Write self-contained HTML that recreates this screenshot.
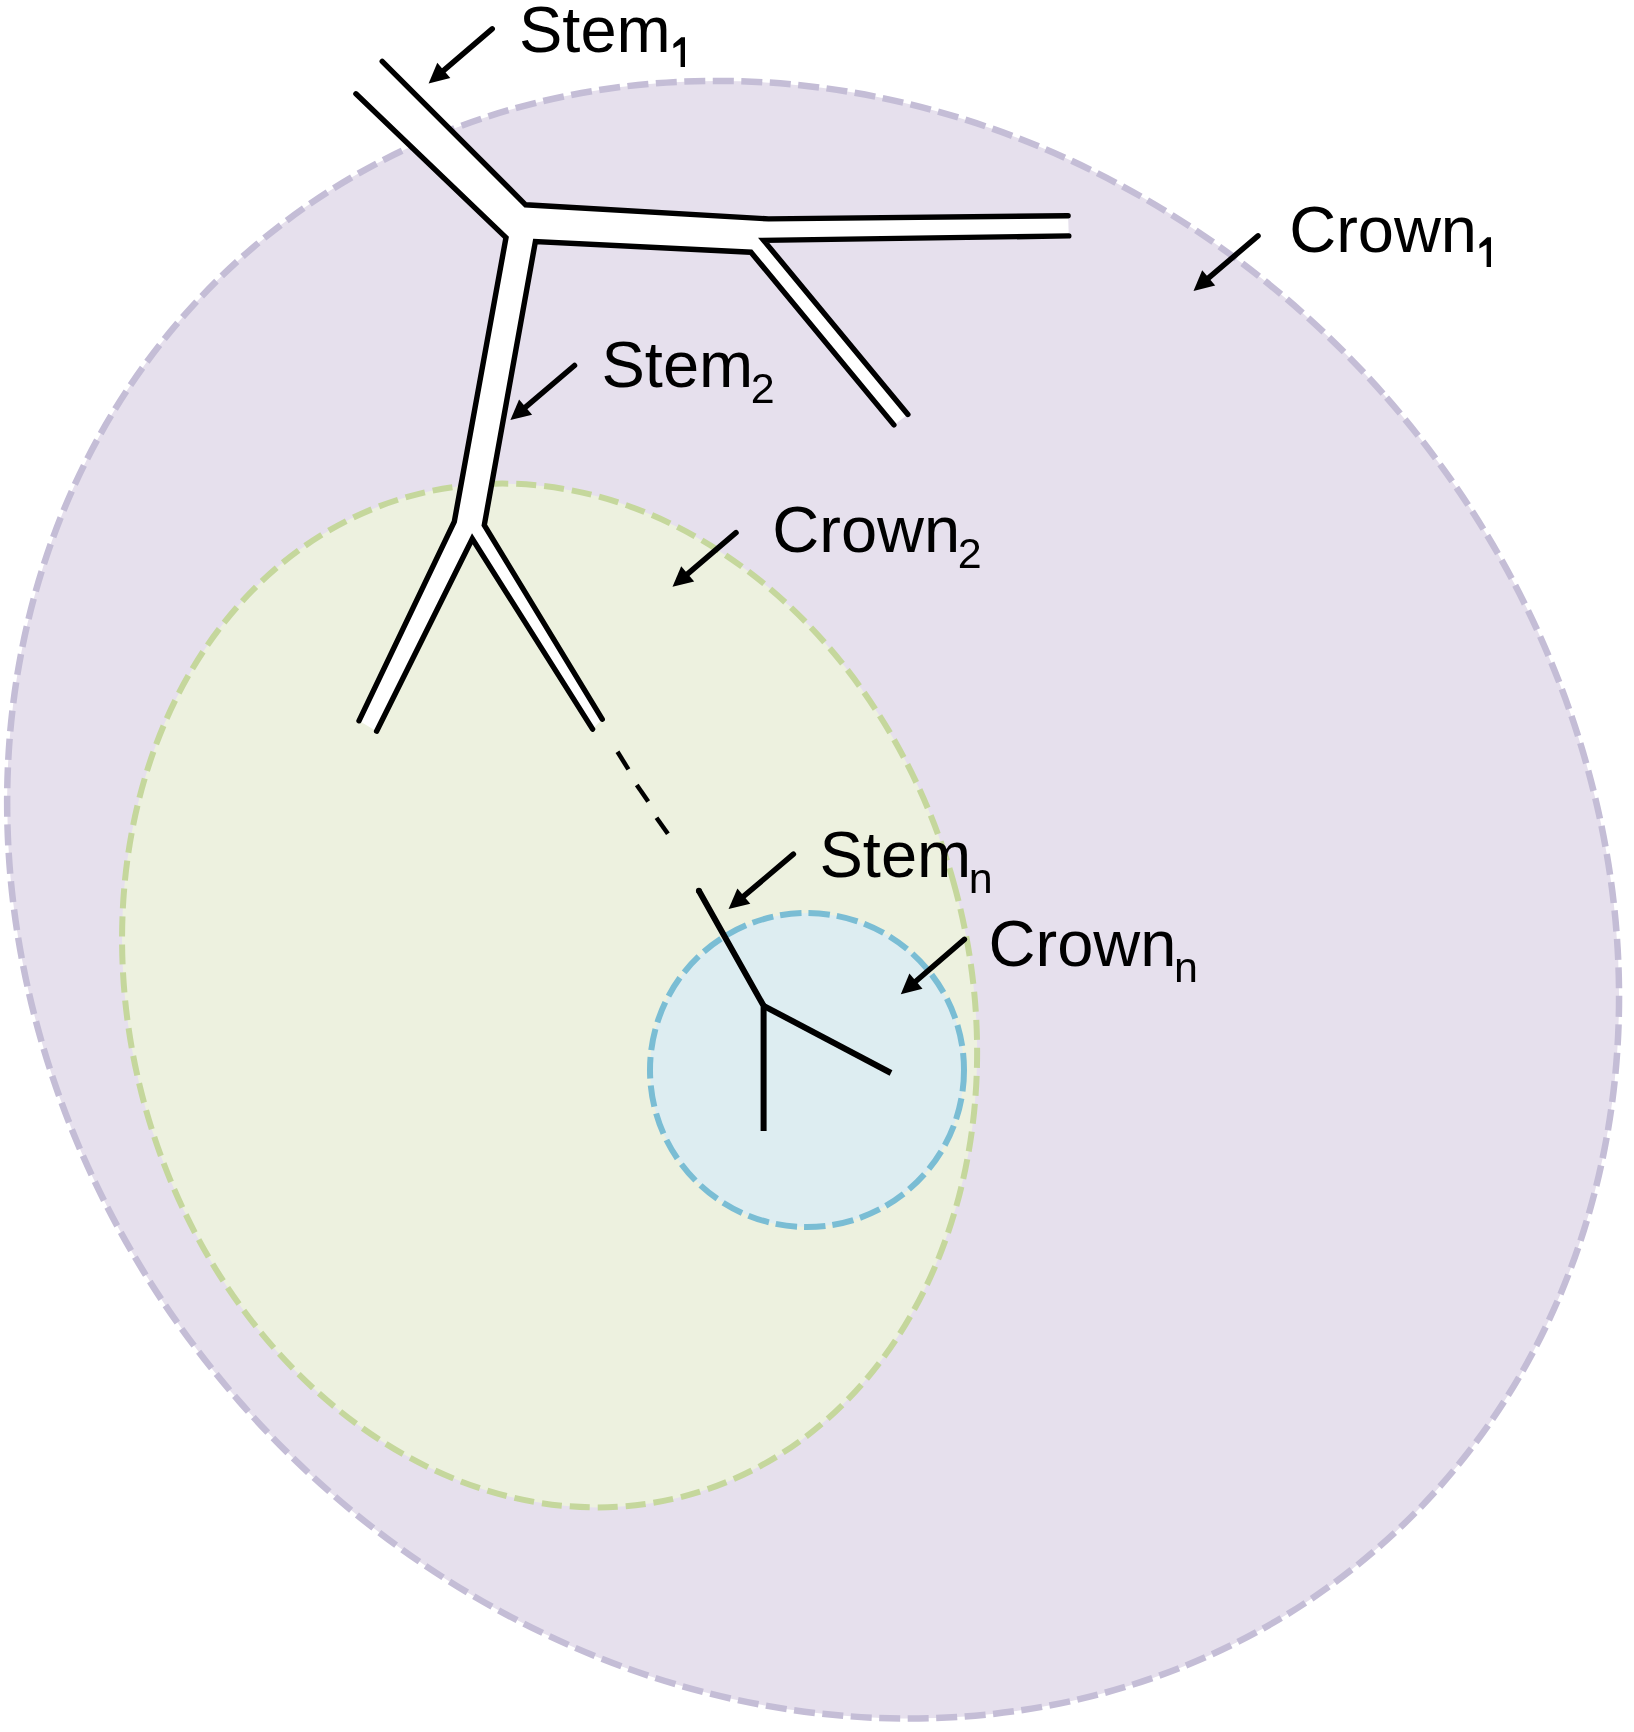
<!DOCTYPE html><html><head><meta charset="utf-8"><style>html,body{margin:0;padding:0;background:#fff;overflow:hidden;width:1634px;height:1732px;}svg{display:block;}text{font-family:"Liberation Sans",sans-serif;}.t{will-change:transform;}</style></head><body>
<svg width="1634" height="1732" viewBox="0 0 1634 1732">
<ellipse cx="813.1" cy="899.7" rx="762.2" ry="859.7" transform="rotate(-41.2 813.1 899.7)" fill="#e6e0ed" stroke="#c4bdd6" stroke-width="6.5" stroke-dasharray="21 7.5"/>
<ellipse cx="549.6" cy="995.5" rx="419.5" ry="518.5" transform="rotate(-15.7 549.6 995.5)" fill="#edf1df" stroke="#c5d79c" stroke-width="6" stroke-dasharray="20 8"/>
<ellipse cx="807" cy="1070" rx="157" ry="157" transform="rotate(0 807 1070)" fill="#ddedf1" stroke="#7abdd4" stroke-width="6" stroke-dasharray="21.5 7"/>
<polygon points="382.2,61.3 525.6,204.8 768.6,218.9 1068.1,215.7 1068.8,235.9 763.7,240.4 907.9,414.5 893.9,424.9 750.9,252.2 535.4,241.5 484.3,525.1 602.2,719.2 592.6,729.1 472.3,538.8 376.6,731.2 359,720.8 454.3,521.7 506,237.6 355.9,93.8" fill="#fff"/>
<g fill="none" stroke="#000" stroke-width="5.4" stroke-linejoin="miter" stroke-linecap="round">
<polyline points="382.2,61.3 525.6,204.8 768.6,218.9 1068.1,215.7"/>
<polyline points="1068.8,235.9 763.7,240.4 907.9,414.5"/>
<polyline points="893.9,424.9 750.9,252.2 535.4,241.5 484.3,525.1 602.2,719.2"/>
<polyline points="592.6,729.1 472.3,538.8 376.6,731.2"/>
<polyline points="359,720.8 454.3,521.7 506,237.6 355.9,93.8"/>
</g>
<g stroke="#000" stroke-width="4.5" stroke-linecap="butt">
<line x1="617.5" y1="751.7" x2="628.4" y2="769.4"/>
<line x1="636.8" y1="785" x2="648.2" y2="801.6"/>
<line x1="656.5" y1="817.7" x2="667.9" y2="833.8"/>
</g>
<g fill="none" stroke="#000" stroke-width="6" stroke-linejoin="miter" stroke-linecap="butt">
<polyline points="698.9,890.8 763.6,1005.8 763.6,1131"/>
<polyline points="763.6,1005.8 891,1073"/>
<circle cx="698.9" cy="890.8" r="3" fill="#000" stroke="none"/>
</g>
<line x1="492.2" y1="28.8" x2="442.3" y2="71.7" stroke="#000" stroke-width="5.5" stroke-linecap="round"/>
<polygon points="428.6,83.4 437.3,62.8 450.3,78" fill="#000"/>
<line x1="574.5" y1="365.5" x2="524.1" y2="408.4" stroke="#000" stroke-width="5.5" stroke-linecap="round"/>
<polygon points="510.4,420.1 519.1,399.5 532.1,414.7" fill="#000"/>
<line x1="1258" y1="235.8" x2="1207.2" y2="279.2" stroke="#000" stroke-width="5.5" stroke-linecap="round"/>
<polygon points="1193.5,290.9 1202.2,270.3 1215.2,285.5" fill="#000"/>
<line x1="736" y1="532.7" x2="686.2" y2="575.1" stroke="#000" stroke-width="5.5" stroke-linecap="round"/>
<polygon points="672.5,586.8 681.2,566.2 694.2,581.4" fill="#000"/>
<line x1="793.4" y1="854.2" x2="742.3" y2="897.4" stroke="#000" stroke-width="5.5" stroke-linecap="round"/>
<polygon points="728.6,909 737.4,888.4 750.3,903.7" fill="#000"/>
<line x1="964.4" y1="939.4" x2="914.4" y2="982.5" stroke="#000" stroke-width="5.5" stroke-linecap="round"/>
<polygon points="900.8,994.2 909.4,973.6 922.5,988.7" fill="#000"/>
<g>
<text x="519.0" y="51.5" font-size="65" fill="#000" style="will-change:transform">Stem</text>
<polygon points="685,37.2 685,66.9 680.6,66.9 680.6,44.3 673.4,48.3 673.4,44.1 681.2,37.2" fill="#000"/>
<text x="601.5" y="387.0" font-size="65" fill="#000" style="will-change:transform">Stem<tspan font-size="43" dx="-2.5" dy="16">2</tspan></text>
<text x="1289.2" y="251.8" font-size="65" fill="#000" style="will-change:transform">Crown</text>
<polygon points="1491,237.3 1491,267 1486.6,267 1486.6,244.4 1479.4,248.4 1479.4,244.2 1487.2,237.3" fill="#000"/>
<text x="772.3" y="551.8" font-size="65" fill="#000" style="will-change:transform">Crown<tspan font-size="43" dx="-2.5" dy="16">2</tspan></text>
<text x="819.5" y="876.8" font-size="65" fill="#000" style="will-change:transform">Stem<tspan font-size="43" dx="-2.5" dy="16">n</tspan></text>
<text x="988.6" y="966.4" font-size="65" fill="#000" style="will-change:transform">Crown<tspan font-size="43" dx="-2.5" dy="16">n</tspan></text>
</g>
</svg></body></html>
